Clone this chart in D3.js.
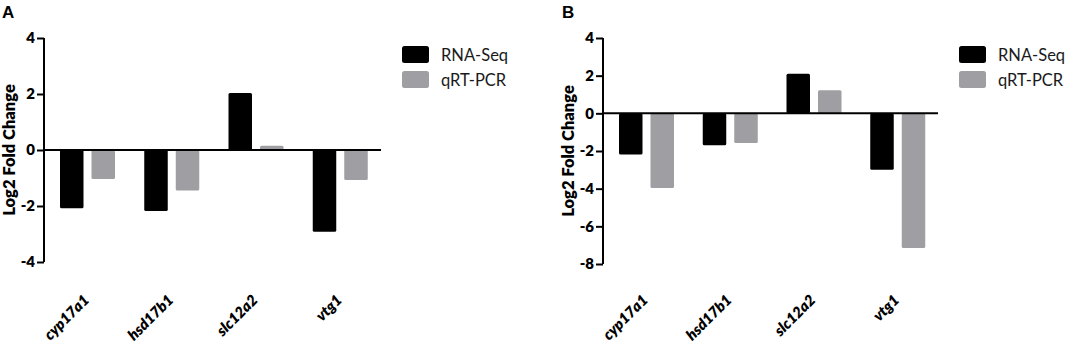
<!DOCTYPE html>
<html>
<head>
<meta charset="utf-8">
<title>Log2 Fold Change</title>
<script src="https://d3js.org/d3.v7.min.js"></script>
<style>
  body { margin: 0; background: #fff; }
  svg text { font-family: Lato, "Open Sans", sans-serif; }
</style>
</head>
<body>
<script>

// genes on the x axis and the two methods
var genes = ["cyp17a1", "hsd17b1", "slc12a2", "vtg1"];
var seriesNames = ["RNA-Seq", "qRT-PCR"];

// panel A values
var rnaSeqA = [-2.08, -2.18, 2.04, -2.92];
var qpcrA = [-1.04, -1.45, 0.15, -1.07];
var ticksA = [-4, -2, 0, 2, 4];

// panel B values
var rnaSeqB = [-2.18, -1.69, 2.10, -3.00];
var qpcrB = [-3.97, -1.57, 1.23, -7.15];
var ticksB = [-8, -6, -4, -2, 0, 2, 4];

var colors = ["#000000", "#9e9ea3"];

var svg = d3.select("body").append("svg")
  .attr("width", 1065)
  .attr("height", 346);

drawPanel("A", rnaSeqA, qpcrA, ticksA, {left: 44, right: 381, top: 38, bottom: 262, labelX: 2});
drawPanel("B", rnaSeqB, qpcrB, ticksB, {left: 603, right: 938, top: 38, bottom: 264, labelX: 562});

function drawPanel(name, rna, pcr, ticks, box) {
  var g = svg.append("g");

  var x = d3.scaleBand()
    .domain(genes)
    .range([box.left, box.right]);

  var inner = d3.scaleBand()
    .domain(seriesNames)
    .range([16, 71])
    .paddingInner(0.254);

  var y = d3.scaleLinear()
    .domain([d3.min(ticks), d3.max(ticks)])
    .range([box.bottom, box.top]);

  var rows = [];
  genes.forEach(function(gene, i) {
    rows.push({gene: gene, series: seriesNames[0], value: rna[i]});
    rows.push({gene: gene, series: seriesNames[1], value: pcr[i]});
  });

  // bars
  g.selectAll("rect.bar")
    .data(rows)
    .enter()
    .append("rect")
      .attr("class", "bar")
      .attr("x", function(d) { return x(d.gene) + inner(d.series); })
      .attr("width", inner.bandwidth())
      .attr("y", function(d) { return y(Math.max(0, d.value)); })
      .attr("height", function(d) { return Math.abs(y(d.value) - y(0)); })
      .attr("rx", 1.5)
      .style("fill", function(d) { return colors[seriesNames.indexOf(d.series)]; });

  // zero line
  g.append("line")
    .attr("x1", box.left)
    .attr("x2", box.right)
    .attr("y1", y(0))
    .attr("y2", y(0))
    .style("stroke", "#000")
    .style("stroke-width", 2);

  // y axis
  var yAxis = g.append("g")
    .attr("transform", "translate(" + box.left + ",0)")
    .call(d3.axisLeft(y)
      .tickValues(ticks)
      .tickSize(7)
      .tickPadding(2)
      .tickFormat(function(d) { return String(d); }));

  yAxis.select(".domain")
    .attr("d", "M0," + y(d3.max(ticks)) + "V" + y(d3.min(ticks)))
    .style("stroke-width", 2);
  yAxis.selectAll(".tick line").style("stroke-width", 2);
  yAxis.selectAll(".tick text")
    .style("font-family", "Lato, sans-serif")
    .style("font-weight", 800)
    .style("font-size", "15px")
    .style("fill", "#000");

  // y axis title
  g.append("text")
    .attr("transform", "translate(" + (box.left - 29) + "," + ((box.top + box.bottom) / 2) + ") rotate(-90)")
    .attr("text-anchor", "middle")
    .style("font-weight", 800)
    .style("font-size", "16.5px")
    .text("Log2 Fold Change");

  // gene labels
  g.selectAll("text.gene")
    .data(genes)
    .enter()
    .append("text")
      .attr("class", "gene")
      .attr("text-anchor", "end")
      .attr("transform", function(d) {
        return "translate(" + (x(d) + x.bandwidth() / 2 + 4) + "," + 301 + ") rotate(-45)";
      })
      .style("font-weight", 800)
      .style("font-style", "italic")
      .style("font-size", "15px")
      .text(function(d) { return d; });

  // panel letter
  g.append("text")
    .attr("x", box.labelX)
    .attr("y", 18)
    .style("font-family", "'Liberation Sans', Arial, sans-serif")
    .style("font-weight", "bold")
    .style("font-size", "17px")
    .text(name);

  // legend
  var legend = g.selectAll("g.legend")
    .data(seriesNames)
    .enter()
    .append("g")
      .attr("class", "legend")
      .attr("transform", function(d, i) { return "translate(" + (box.right + 21) + "," + (46 + i * 25) + ")"; });

  legend.append("rect")
    .attr("width", 27)
    .attr("height", 17)
    .attr("rx", 2.5)
    .style("fill", function(d, i) { return colors[i]; });

  legend.append("text")
    .attr("x", 39)
    .attr("y", 9)
    .attr("dy", ".35em")
    .style("font-size", "16.5px")
    .style("fill", "#1a1a1a")
    .text(function(d) { return d; });
}

</script>
</body>
</html>
